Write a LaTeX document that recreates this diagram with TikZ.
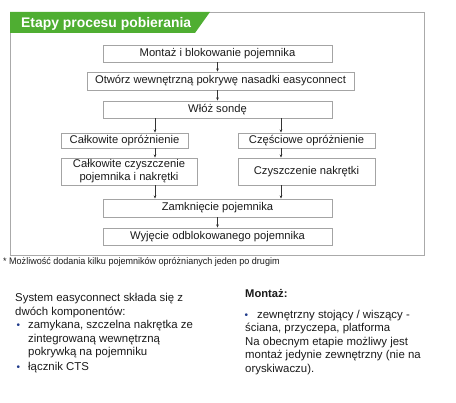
\documentclass[tikz,border=0pt]{standalone}
\usepackage{fontspec}
\setmainfont{Liberation Sans}
\newfontfamily\narrowfont{Liberation Sans}[FakeStretch=0.95]
\usetikzlibrary{arrows.meta}
\definecolor{hdrgreen}{HTML}{4FAE32}
\definecolor{framegray}{HTML}{AAAAAA}
\definecolor{boxgray}{HTML}{A4A4A4}
\definecolor{arrgray}{HTML}{333333}
\definecolor{bulletblue}{HTML}{1F3A8A}
\definecolor{txt}{HTML}{1A1A1A}
\tikzset{
  stepbox/.style={draw=boxgray, line width=0.8pt, inner sep=0pt, align=center, text=txt,
    font=\fontsize{11.2}{13}\selectfont},
  arr/.style={draw=arrgray, line width=0.6pt, -{Stealth[length=3.2pt,width=2.6pt]}},
  bodytxt/.style={anchor=base west, inner sep=0pt, text=txt, font=\fontsize{11.4}{13}\selectfont},
  bul/.style={anchor=base west, inner sep=0pt, text=bulletblue, font=\fontsize{10}{12}\selectfont},
}
\begin{document}
\begin{tikzpicture}[x=1pt,y=-1pt]
\useasboundingbox (0,0) rectangle (456,403);
% frame
\draw[framegray, line width=0.8pt] (10,12) rectangle (424,255);
\fill[hdrgreen] (10,12) -- (210,12) -- (195,33) -- (10,33) -- cycle;
\node[anchor=base west, inner sep=0pt, text=white, font=\fontsize{13.9}{15}\selectfont\bfseries] (hdr) at (21,28) {Etapy procesu pobierania};
% boxes
\node[stepbox, minimum width=229pt, minimum height=17pt] (b1) at (217.5,53.5) {Montaż i blokowanie pojemnika};
\node[stepbox, minimum width=267pt, minimum height=18pt] (b2) at (220.5,81) {Otwórz wewnętrzną pokrywę nasadki easyconnect};
\node[stepbox, minimum width=229pt, minimum height=17pt] (b3) at (217.5,109.5) {Włóż sondę};
\node[stepbox, minimum width=127pt, minimum height=15pt] (l1) at (124.5,140.5) {Całkowite opróżnienie};
\node[stepbox, minimum width=136pt, minimum height=27pt] (l2) at (129,171.5) {Całkowite czyszczenie\\pojemnika i nakrętki};
\node[stepbox, minimum width=137pt, minimum height=15pt] (r1) at (306.5,140.5) {Częściowe opróżnienie};
\node[stepbox, minimum width=137pt, minimum height=27pt] (r2) at (306.5,171.5) {Czyszczenie nakrętki};
\node[stepbox, minimum width=229pt, minimum height=18pt] (z) at (217.5,208) {Zamknięcie pojemnika};
\node[stepbox, minimum width=229pt, minimum height=17pt] (w) at (217.5,236.5) {Wyjęcie odblokowanego pojemnika};
% arrow columns
\coordinate (xm) at (217.5,0);
\coordinate (xl) at (155,0);
\coordinate (xr) at (281,0);
\draw[arr] (b1.south -| xm) -- (b2.north -| xm);
\draw[arr] (b2.south -| xm) -- (b3.north -| xm);
\draw[arr] (b3.south -| xl) -- (l1.north -| xl);
\draw[arr] (b3.south -| xr) -- (r1.north -| xr);
\draw[arr] (l1.south -| xl) -- (l2.north -| xl);
\draw[arr] (r1.south -| xr) -- (r2.north -| xr);
\draw[arr] (l2.south -| xl) -- (z.north -| xl);
\draw[arr] (r2.south -| xr) -- (z.north -| xr);
\draw[arr] (z.south -| xm) -- (w.north -| xm);
% footnote
\node[anchor=base west, inner sep=0pt, text=txt, font=\narrowfont\fontsize{9.5}{11}\selectfont] (fn) at (3,264.5) {* Możliwość dodania kilku pojemników opróżnianych jeden po drugim};
% left column
\node[bodytxt] (t1) at (15,302) {System easyconnect składa się z};
\node[bodytxt] (t2) at (15,315.5) {dwóch komponentów:};
\node[bul] (bu1) at (16.5,329) {•};
\node[bodytxt] (t3) at (28,329) {zamykana, szczelna nakrętka ze};
\node[bodytxt] (t4) at (28,342.5) {zintegrowaną wewnętrzną};
\node[bodytxt] (t5) at (28,356) {pokrywką na pojemniku};
\node[bul] (bu2) at (16.5,370.5) {•};
\node[bodytxt] (t6) at (28,370.5) {łącznik CTS};
% right column
\node[bodytxt, font=\fontsize{11.2}{13}\selectfont\bfseries] (m0) at (245,298) {Montaż:};
\node[bul] (bu3) at (244.5,319) {•};
\node[bodytxt] (m1) at (257,319) {zewnętrzny stojący / wiszący -};
\node[bodytxt] (m2) at (245,332) {ściana, przyczepa, platforma};
\node[bodytxt] (m3) at (245,345.5) {Na obecnym etapie możliwy jest};
\node[bodytxt] (m4) at (245,359) {montaż jedynie zewnętrzny (nie na};
\node[bodytxt] (m5) at (245,372.5) {oryskiwaczu).};
\end{tikzpicture}
\end{document}
